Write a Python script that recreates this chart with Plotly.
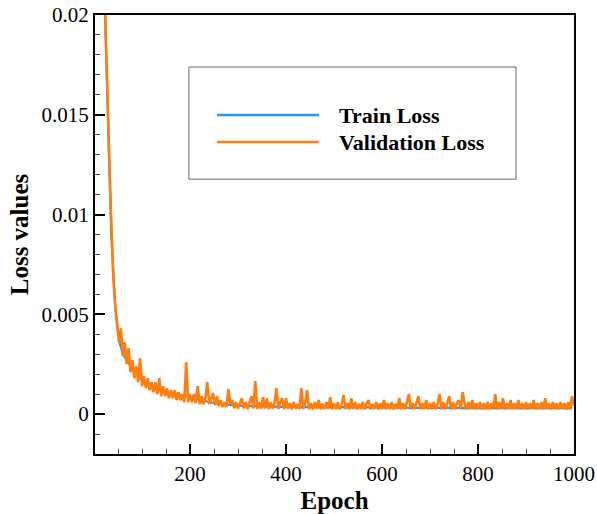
import plotly.graph_objects as go

# Loss history, validation recorded every 4 epochs, training every 8 epochs
val_epochs = list(range(4, 1001, 4))
val_loss = [
    0.0520, 0.0410, 0.0330, 0.0272, 0.0228, 0.0199, 0.0160, 0.0124, 0.0092, 0.0069,
    0.0055, 0.0044, 0.0036, 0.0043, 0.0029, 0.0036, 0.0025, 0.0033, 0.0021, 0.0027,
    0.0018, 0.0024, 0.0016, 0.0028, 0.0014, 0.0019, 0.0013, 0.0018, 0.0012, 0.0016,
    0.0011, 0.0016, 0.0010, 0.0018, 0.0009, 0.0014, 0.0009, 0.0013, 0.0008, 0.0012,
    0.0008, 0.0012, 0.0007, 0.0011, 0.0007, 0.0010, 0.0006, 0.0026, 0.0006, 0.0010,
    0.0006, 0.0010, 0.00055, 0.0014, 0.0005, 0.0009, 0.0005, 0.0008, 0.0016, 0.0005,
    0.0008, 0.00105, 0.00045, 0.0009, 0.0004, 0.0007, 0.00035, 0.0006, 0.00035, 0.00125,
    0.0005, 0.0007, 0.00030, 0.0006, 0.00028, 0.00055, 0.0008, 0.00028, 0.0006, 0.00026,
    0.00055, 0.0009, 0.00028, 0.00165, 0.00026, 0.0006, 0.00027, 0.00085, 0.00028, 0.0008,
    0.00026, 0.0006, 0.00028, 0.00055, 0.0013, 0.00026, 0.0006, 0.0008, 0.00025, 0.0008,
    0.00026, 0.00055, 0.00024, 0.0006, 0.00027, 0.0005, 0.00025, 0.0013, 0.00026, 0.00055,
    0.0012, 0.00025, 0.00055, 0.00024, 0.0006, 0.00026, 0.0007, 0.00024, 0.00052, 0.00025,
    0.0006, 0.00026, 0.00085, 0.00024, 0.00055, 0.00025, 0.0006, 0.00024, 0.0005, 0.00095,
    0.00025, 0.00055, 0.00024, 0.0008, 0.00026, 0.0006, 0.00024, 0.00052, 0.00025, 0.0006,
    0.00024, 0.00055, 0.0007, 0.00024, 0.0005, 0.00026, 0.0006, 0.00024, 0.00055, 0.00025,
    0.0007, 0.00024, 0.00055, 0.00025, 0.0006, 0.00024, 0.00052, 0.00026, 0.0008, 0.00024,
    0.00055, 0.00025, 0.0006, 0.0010, 0.00024, 0.00055, 0.00025, 0.0006, 0.0009, 0.00024,
    0.00055, 0.00025, 0.0007, 0.00024, 0.00055, 0.00025, 0.0006, 0.00024, 0.00055, 0.0010,
    0.00024, 0.0006, 0.00025, 0.00055, 0.0009, 0.00024, 0.0006, 0.00025, 0.00055, 0.0007,
    0.00024, 0.0011, 0.00055, 0.00024, 0.0006, 0.00025, 0.0007, 0.00024, 0.00055, 0.00025,
    0.0006, 0.00024, 0.00055, 0.00025, 0.0006, 0.00024, 0.00055, 0.00025, 0.0010, 0.00024,
    0.0006, 0.00025, 0.0008, 0.00024, 0.00055, 0.00025, 0.0007, 0.00024, 0.00055, 0.00025,
    0.0007, 0.00024, 0.00055, 0.00025, 0.0006, 0.00024, 0.00055, 0.00025, 0.0007, 0.00024,
    0.00055, 0.00025, 0.0006, 0.00024, 0.0008, 0.00025, 0.00055, 0.00024, 0.0006, 0.00025,
    0.00055, 0.00024, 0.0006, 0.00025, 0.00055, 0.00024, 0.0006, 0.00025, 0.0009, 0.0004,
]

train_epochs = list(range(4, 1001, 8))
train_loss = [
    0.0510, 0.0325, 0.0225, 0.0158, 0.0090, 0.0054, 0.0037, 0.0030, 0.0027, 0.0024,
    0.0021, 0.0019, 0.0017, 0.0016, 0.0015, 0.0014, 0.0013, 0.0012, 0.00115, 0.0011,
    0.00105, 0.0010, 0.00095, 0.0009, 0.00085, 0.0008, 0.00075, 0.0007, 0.00066, 0.00062,
    0.00058, 0.00055, 0.00052, 0.0005, 0.00047, 0.00045, 0.00043, 0.00042, 0.00041, 0.00040,
    0.00040, 0.00039, 0.00040, 0.00038, 0.00039, 0.00038, 0.00037, 0.00038, 0.00037, 0.00036,
    0.00037, 0.00036, 0.00037, 0.00036, 0.00035, 0.00036, 0.00035, 0.00036, 0.00035, 0.00034,
    0.00035, 0.00034, 0.00035, 0.00034, 0.00035, 0.00034, 0.00033, 0.00034, 0.00033, 0.00034,
    0.00033, 0.00034, 0.00033, 0.00032, 0.00033, 0.00032, 0.00033, 0.00032, 0.00033, 0.00032,
    0.00033, 0.00032, 0.00031, 0.00032, 0.00031, 0.00032, 0.00031, 0.00032, 0.00031, 0.00032,
    0.00031, 0.00032, 0.00031, 0.00030, 0.00031, 0.00030, 0.00031, 0.00030, 0.00031, 0.00030,
    0.00031, 0.00030, 0.00031, 0.00030, 0.00031, 0.00030, 0.00031, 0.00030, 0.00031, 0.00030,
    0.00030, 0.00031, 0.00030, 0.00031, 0.00030, 0.00031, 0.00030, 0.00031, 0.00030, 0.00031,
    0.00030, 0.00031, 0.00030, 0.00031, 0.00030,
]

series_names = ["Train Loss", "Validation Loss"]
series_colors = ["#2196f3", "#ff7f0e"]

y_tickvals = [0, 0.005, 0.01, 0.015, 0.02]
y_ticktext = ["0", "0.005", "0.01", "0.015", "0.02"]
x_tickvals = [200, 400, 600, 800, 1000]
x_ticktext = ["200", "400", "600", "800", "1000"]

FONT = "Liberation Serif"

fig = go.Figure()
fig.add_trace(go.Scatter(x=train_epochs, y=train_loss, mode="lines", name=series_names[0],
                         line=dict(color=series_colors[0], width=2.2), showlegend=False))
fig.add_trace(go.Scatter(x=val_epochs, y=val_loss, mode="lines", name=series_names[1],
                         line=dict(color=series_colors[1], width=2.6), showlegend=False))

# framed key in the upper part of the plot
fig.add_shape(type="rect", xref="paper", yref="paper", x0=0.196, x1=0.879, y0=0.626, y1=0.8815,
              line=dict(color="#666666", width=1), fillcolor="white", layer="above")
key_y = [0.7722, 0.7107]
for name, color, yy in zip(series_names, series_colors, key_y):
    fig.add_shape(type="line", xref="paper", yref="paper", x0=0.2547, x1=0.4676, y0=yy, y1=yy,
                  line=dict(color=color, width=2.5), layer="above")
    fig.add_annotation(xref="paper", yref="paper", x=0.5052, y=yy, text=name, showarrow=False,
                       xanchor="left", yanchor="middle",
                       font=dict(family=FONT, size=22, color="black", weight="bold"))

axis_common = dict(
    showline=True, linecolor="black", linewidth=2, mirror=True,
    ticks="inside", tickcolor="black", tickwidth=2, ticklen=10,
    showgrid=False, zeroline=False,
    tickfont=dict(family=FONT, size=21, color="black"),
)

fig.update_xaxes(
    range=[2, 1000], tickvals=x_tickvals, ticktext=x_ticktext,
    minor=dict(tick0=0, dtick=50, ticks="inside", ticklen=5, tickwidth=1, tickcolor="#444444"),
    title=dict(text="Epoch", font=dict(family=FONT, size=25, color="black", weight="bold"), standoff=6),
    **axis_common,
)
fig.update_yaxes(
    range=[-0.002, 0.02], tickvals=y_tickvals, ticktext=y_ticktext,
    minor=dict(tick0=0, dtick=0.001, ticks="inside", ticklen=5, tickwidth=1, tickcolor="#444444"),
    title=dict(text="Loss values", font=dict(family=FONT, size=25, color="black", weight="bold"), standoff=6),
    **axis_common,
)

fig.update_layout(
    width=597, height=514,
    margin=dict(l=95, r=23, t=15, b=60, autoexpand=False),
    paper_bgcolor="white", plot_bgcolor="white",
)

fig.write_html("out.html")
